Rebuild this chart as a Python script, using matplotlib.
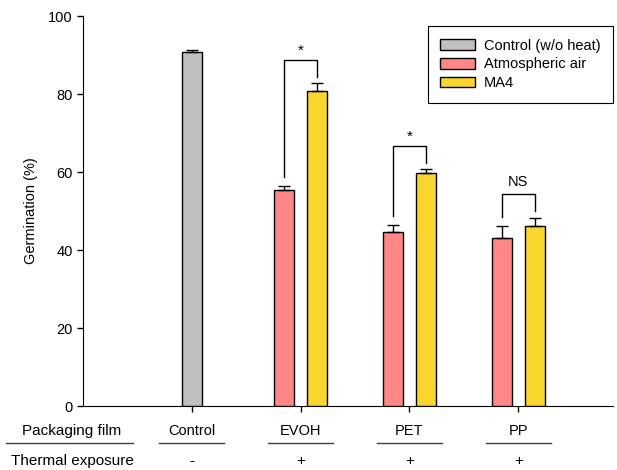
import matplotlib
matplotlib.use("Agg")
import matplotlib.pyplot as plt
import numpy as np

# data
films = ["Control", "EVOH", "PET", "PP"]
thermal = ["-", "+", "+", "+"]
control_val = [90.8]
control_err = [0.6]
air_val = [55.4, 44.6, 43.2]
air_err = [1.1, 1.8, 3.0]
ma4_val = [80.7, 59.7, 46.2]
ma4_err = [2.0, 1.1, 2.1]
sig_marks = ["*", "*", "NS"]
bracket_top = [88.6, 66.6, 54.4]
bracket_left = [58.8, 48.7, 48.5]
bracket_right = [84.3, 62.4, 50.1]

matplotlib.rcParams['font.family'] = ['Liberation Sans', 'DejaVu Sans']
matplotlib.rcParams['font.size'] = 10

fig = plt.figure(figsize=(6.17, 4.70), dpi=100)
ax = fig.add_axes([83 / 617, 1 - 406 / 470, (613 - 83) / 617, 390 / 470])

w = 0.185
off = 0.15
xc = np.arange(len(films))
xs = xc[1:]
ekw = dict(ecolor="black", elinewidth=1, capsize=4, capthick=1)

ax.bar(xc[:1], control_val, w, color="#c0c0c0", edgecolor="black", linewidth=1,
       yerr=[[0], control_err], error_kw=ekw, label="Control (w/o heat)", zorder=3)
ax.bar(xs - off, air_val, w, color="#ff8787", edgecolor="black", linewidth=1,
       yerr=[np.zeros(3), air_err], error_kw=ekw, label="Atmospheric air", zorder=3)
ax.bar(xs + off, ma4_val, w, color="#f9d62e", edgecolor="black", linewidth=1,
       yerr=[np.zeros(3), ma4_err], error_kw=ekw, label="MA4", zorder=3)

# significance brackets
for x, t, l, r, m in zip(xs, bracket_top, bracket_left, bracket_right, sig_marks):
    ax.plot([x - off, x - off, x + off, x + off], [l, t, t, r], color="black", lw=1)
    if m == "*":
        ax.text(x, t + 0.6, m, ha="center", va="bottom", fontsize=11)
    else:
        ax.text(x, t + 1.3, m, ha="center", va="bottom", fontsize=10.5)

ax.set_xlim(-1.0, 3.87)
ax.set_ylim(0, 100)
ax.set_yticks(np.arange(0, 101, 20))
ax.set_xticks(xc)
ax.set_xticklabels([])
ax.set_ylabel("Germination (%)", fontsize=10.5, labelpad=7)
ax.spines["top"].set_visible(False)
ax.spines["right"].set_visible(False)
ax.tick_params(direction="out", length=4, width=1, labelsize=10.5)

leg = ax.legend(loc="upper right", bbox_to_anchor=(1.0, 0.974), borderaxespad=0,
                frameon=True, fancybox=False, edgecolor="black", framealpha=1,
                fontsize=10.5, handlelength=2.4, handleheight=0.75, labelspacing=0.33,
                borderpad=0.85, handletextpad=0.6)
leg.get_frame().set_linewidth(0.8)

# table under the axis
tr = ax.get_xaxis_transform()
row1, line_y, row2 = -0.064, -0.095, -0.141
ax.text(-1.10, row1, "Packaging film", transform=tr, ha="center", va="center", fontsize=11)
ax.text(-1.10, row2, "Thermal exposure", transform=tr, ha="center", va="center", fontsize=11)
ax.plot([-1.71, -0.54], [line_y, line_y], transform=tr, color="#404040", lw=1, clip_on=False)
for x, f, t in zip(xc, films, thermal):
    ax.text(x, row1, f, transform=tr, ha="center", va="center", fontsize=10.5)
    ax.text(x, row2, t, transform=tr, ha="center", va="center", fontsize=11)
    ax.plot([x - 0.30, x + 0.30], [line_y, line_y], transform=tr, color="#404040", lw=1,
            clip_on=False)

fig.savefig("out.png", dpi=100)
